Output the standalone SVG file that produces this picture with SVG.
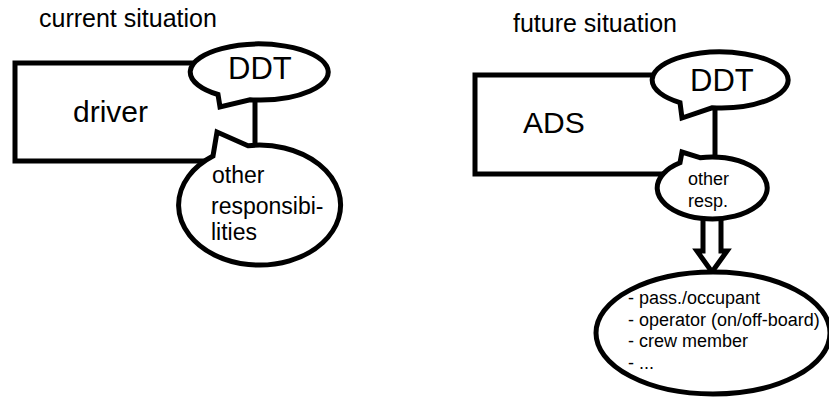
<svg xmlns="http://www.w3.org/2000/svg" width="829" height="397" viewBox="0 0 829 397">
<style>
text{font-family:"Liberation Sans",Arial,sans-serif;fill:#000}
.ln{fill:none;stroke:#000;stroke-width:5;stroke-linejoin:miter}
.bub{fill:#fff;stroke:#000;stroke-width:5;stroke-linejoin:miter}
.t{font-size:25px}
.big{font-size:31px}
.mid{font-size:23px}
.sm{font-size:18px}
</style>
<rect width="829" height="397" fill="#fff"/>
<text class="t" x="39" y="27">current situation</text>
<text class="t" x="513" y="32">future situation</text>

<g id="driver">
<path class="ln" d="M200 63 H15 V161 H215"/>
<text class="big" x="73" y="122" style="font-size:30px">driver</text>
</g>
<g id="ads">
<path class="ln" d="M660 75 H475 V174 H675"/>
<text class="big" x="523" y="133" style="font-size:30px">ADS</text>
</g>

<g id="connectors">
<line class="ln" x1="255" y1="96" x2="255" y2="150"/>
<line class="ln" x1="715" y1="104" x2="715" y2="162"/>
<polyline class="bub" points="703,210 703,251 697,251 712,272 727,251 721,251 721,210"/>
</g>

<g id="ddt-left">
<path class="bub" d="M218 94.5 L220 107 L250 99.8 A69 28 0 1 0 218 94.5 Z"/>
<text class="big" x="228" y="79">DDT</text>
</g>
<g id="other-left">
<path class="bub" d="M248 145.7 L217 132 L213 156 A81 60 0 1 0 248 145.7 Z"/>
<text class="mid" x="212" y="183">other</text>
<text class="mid" x="211" y="214">responsibi-</text>
<text class="mid" x="211" y="240">lities</text>
</g>

<g id="ddt-right">
<path class="bub" d="M680 102.6 L682 118 L712 107.8 A68 28 0 1 0 680 102.6 Z"/>
<text class="big" x="690" y="91">DDT</text>
</g>
<g id="other-right">
<path class="bub" d="M700 157.7 L682 152 L680 162.8 A55 31 0 1 0 700 157.7 Z"/>
<text class="sm" x="688" y="185">other</text>
<text class="sm" x="688" y="207">resp.</text>
</g>

<g id="roles">
<ellipse class="bub" cx="713" cy="333" rx="117" ry="61"/>
<text class="sm" x="628" y="304">- pass./occupant</text>
<text class="sm" x="628" y="325.5">- operator (on/off-board)</text>
<text class="sm" x="628" y="347">- crew member</text>
<text class="sm" x="628" y="368.5">- ...</text>
</g>
</svg>
